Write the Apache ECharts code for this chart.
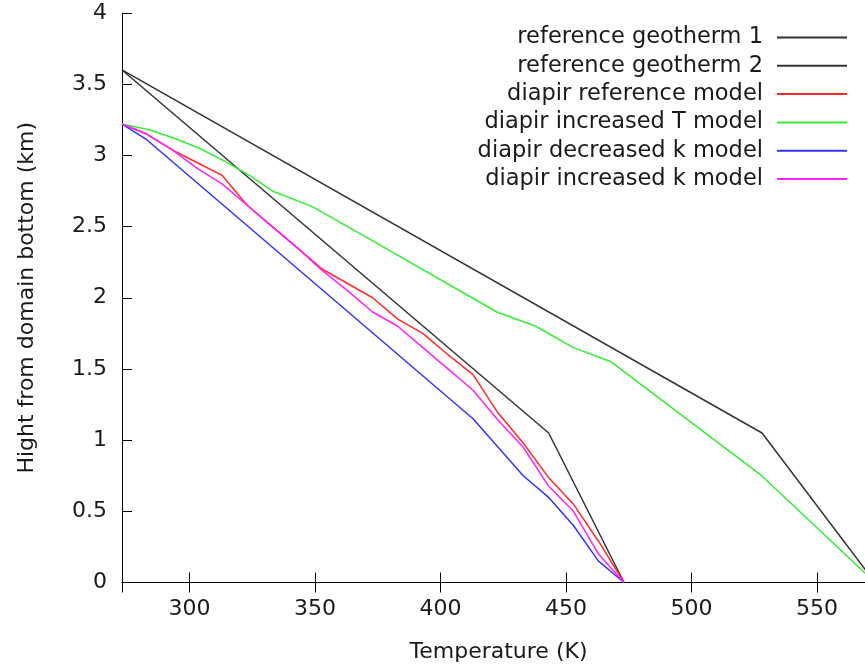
<!DOCTYPE html>
<html>
<head>
<meta charset="utf-8">
<script src="https://cdn.jsdelivr.net/npm/echarts@6/dist/echarts.min.js"></script>
<style>
html,body{margin:0;padding:0;background:#fff;}
#chart{width:865px;height:665px;}
</style>
</head>
<body>
<div id="chart"></div>
<script>
// Series names
const seriesNames = [
  'reference geotherm 1',
  'reference geotherm 2',
  'diapir reference model',
  'diapir increased T model',
  'diapir decreased k model',
  'diapir increased k model'
];
// Each series: [Temperature (K), Height (km)]
const geotherm1 = [[273.15, 3.6], [528.15, 1.05], [573.15, 0]];
const geotherm2 = [[273.15, 3.6], [443.15, 1.05], [473.15, 0]];
const diapirReference = [
  [273.15, 3.22], [283, 3.15], [293, 3.04], [303, 2.95], [313, 2.86], [323, 2.65],
  [333, 2.5], [343, 2.35], [353, 2.2], [363, 2.1], [373, 2.0], [383, 1.85],
  [393, 1.75], [403, 1.6], [413, 1.46], [423, 1.19], [433, 0.98], [443, 0.74],
  [453, 0.55], [463, 0.29], [473.15, 0]
];
const diapirIncreasedT = [
  [273.15, 3.22], [284, 3.18], [294, 3.12], [304, 3.05], [314, 2.96], [324, 2.86],
  [333, 2.75], [349, 2.64], [372, 2.41], [422.5, 1.9], [438, 1.8], [453, 1.65],
  [468, 1.55], [528, 0.75], [573.15, 0]
];
const diapirDecreasedK = [
  [273.15, 3.22], [283, 3.11], [413, 1.15], [433, 0.75], [443, 0.6],
  [453, 0.4], [463, 0.15], [473.15, 0]
];
const diapirIncreasedK = [
  [273.15, 3.22], [283, 3.15], [293, 3.04], [303, 2.91], [313, 2.8], [323, 2.65],
  [333, 2.5], [343, 2.35], [353, 2.19], [363, 2.05], [373, 1.9], [383, 1.8],
  [393, 1.65], [403, 1.5], [413, 1.35], [423, 1.14], [433, 0.95], [443, 0.68],
  [453, 0.5], [463, 0.2], [473.15, 0]
];
const seriesData = [geotherm1, geotherm2, diapirReference, diapirIncreasedT, diapirDecreasedK, diapirIncreasedK];
const seriesColors = ['#333333', '#333333', '#ff2a2a', '#33ee33', '#3333ff', '#ff22ff'];

const xMin = 273.15, xMax = 573.15;
const yMin = 0, yMax = 4, yStep = 0.5;

const font = 'DejaVu Sans';
const textColor = '#1a1a1a';

const chart = echarts.init(document.getElementById('chart'), null, {renderer: 'canvas'});

const xLabelFmt = v => (Math.abs(v / 50 - Math.round(v / 50)) < 1e-6 ? String(Math.round(v)) : '');

const option = {
  animation: false,
  backgroundColor: '#ffffff',
  grid: {left: 122, right: -10, top: 13, bottom: 82.5, show: false, containLabel: false, outerBoundsMode: 'none'},
  legend: {
    orient: 'vertical',
    right: 13,
    top: 21,
    align: 'right',
    icon: 'rect',
    itemWidth: 70,
    itemHeight: 2,
    itemGap: 5.3,
    data: seriesNames,
    textStyle: {fontSize: 22.5, color: textColor, fontFamily: font, lineHeight: 22, padding: [0, 9, 0, 0]}
  },
  xAxis: [
    {
      type: 'value', min: xMin, max: xMax, splitNumber: 6,
      position: 'bottom',
      name: 'Temperature (K)', nameLocation: 'middle', nameGap: 59,
      nameTextStyle: {fontSize: 22, color: textColor, fontFamily: font},
      axisLine: {show: true, lineStyle: {color: '#000', width: 1}},
      axisTick: {show: true, inside: true, length: 10, lineStyle: {color: '#000'}},
      axisLabel: {show: true, margin: 16, fontSize: 22, color: textColor, fontFamily: font, formatter: xLabelFmt, showMinLabel: false, showMaxLabel: false},
      splitLine: {show: false}
    },
    {
      type: 'value', min: xMin, max: xMax, splitNumber: 6,
      position: 'top',
      axisLine: {show: true, lineStyle: {color: '#000', width: 1}},
      axisTick: {show: true, inside: true, length: 10, lineStyle: {color: '#000'}},
      axisLabel: {show: false},
      splitLine: {show: false}
    }
  ],
  yAxis: [
    {
      type: 'value', min: yMin, max: yMax, interval: yStep,
      position: 'left',
      name: 'Hight from domain bottom (km)', nameLocation: 'middle', nameGap: 84,
      nameTextStyle: {fontSize: 22, color: textColor, fontFamily: font},
      axisLine: {show: true, lineStyle: {color: '#000', width: 1}},
      axisTick: {show: true, inside: true, length: 10, lineStyle: {color: '#000'}},
      axisLabel: {show: true, margin: 15, fontSize: 22, color: textColor, fontFamily: font},
      splitLine: {show: false}
    },
    {
      type: 'value', min: yMin, max: yMax, interval: yStep,
      position: 'right',
      axisLine: {show: true, lineStyle: {color: '#000', width: 1}},
      axisTick: {show: true, inside: true, length: 10, lineStyle: {color: '#000'}},
      axisLabel: {show: false},
      splitLine: {show: false}
    }
  ],
  series: seriesNames.map((name, i) => ({
    name: name,
    type: 'line',
    xAxisIndex: 0,
    yAxisIndex: 0,
    data: seriesData[i],
    symbol: 'none',
    showSymbol: false,
    clip: true,
    color: seriesColors[i],
    lineStyle: {color: seriesColors[i], width: 1.5},
    itemStyle: {color: seriesColors[i]},
    z: 2 + i
  }))
};

chart.setOption(option);
</script>
</body>
</html>
